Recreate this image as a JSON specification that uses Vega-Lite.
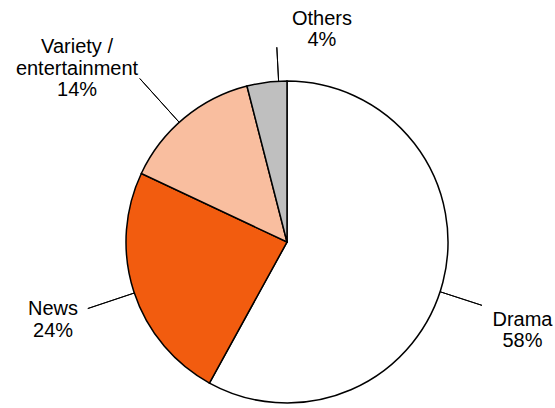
{
  "$schema": "https://vega.github.io/schema/vega-lite/v6.json",
  "width": 536,
  "height": 332,
  "autosize": {"type": "none"},
  "padding": {"left": 19, "top": 76, "right": 0, "bottom": 0},
  "background": "white",
  "config": {"view": {"stroke": null}, "text": {"font": "Liberation Sans"}},
  "data": {"values": [
    {"category": "Drama", "value": 58, "order": 1, "label": "Drama\n58%"},
    {"category": "News", "value": 24, "order": 2, "label": "News\n24%"},
    {"category": "Variety / entertainment", "value": 14, "order": 3, "label": "Variety /\nentertainment\n14%"},
    {"category": "Others", "value": 4, "order": 4, "label": "Others\n4%"}
  ]},
  "transform": [
    {"stack": "value", "groupby": [], "sort": [{"field": "order", "order": "ascending"}], "as": ["v0", "v1"]}
  ],
  "layer": [
    {
      "mark": {"type": "arc", "radius": 161, "stroke": "black", "strokeWidth": 1.5},
      "encoding": {
        "theta": {"field": "v0", "type": "quantitative", "scale": {"domain": [0, 100]}},
        "theta2": {"field": "v1"},
        "color": {"field": "category", "type": "nominal",
          "scale": {"domain": ["Drama", "News", "Variety / entertainment", "Others"],
                    "range": ["#FFFFFF", "#F25C0F", "#F9BE9F", "#BFBFBF"]},
          "legend": null}
      }
    },
    {
      "mark": {"type": "arc", "radius": 205, "radius2": 161, "fill": null, "stroke": "black", "strokeWidth": 1, "thetaOffset": 1.885, "theta2Offset": 1.885},
      "encoding": {
        "theta": {"field": "v0", "type": "quantitative"},
        "theta2": {"field": "v0"},
        "strokeOpacity": {"condition": {"test": "datum.category === 'Drama'", "value": 1}, "value": 0}
      }
    },
    {
      "mark": {"type": "arc", "radius": 210, "radius2": 161, "fill": null, "stroke": "black", "strokeWidth": 1, "thetaOffset": 0.7458, "theta2Offset": 0.7458},
      "encoding": {
        "theta": {"field": "v0", "type": "quantitative"},
        "theta2": {"field": "v0"},
        "strokeOpacity": {"condition": {"test": "datum.category === 'News'", "value": 1}, "value": 0}
      }
    },
    {
      "mark": {"type": "arc", "radius": 220, "radius2": 161, "fill": null, "stroke": "black", "strokeWidth": 1, "thetaOffset": 0.3978, "theta2Offset": 0.3978},
      "encoding": {
        "theta": {"field": "v0", "type": "quantitative"},
        "theta2": {"field": "v0"},
        "strokeOpacity": {"condition": {"test": "datum.category === 'Variety / entertainment'", "value": 1}, "value": 0}
      }
    },
    {
      "mark": {"type": "arc", "radius": 195, "radius2": 161, "fill": null, "stroke": "black", "strokeWidth": 1, "thetaOffset": 0.1991, "theta2Offset": 0.1991},
      "encoding": {
        "theta": {"field": "v0", "type": "quantitative"},
        "theta2": {"field": "v0"},
        "strokeOpacity": {"condition": {"test": "datum.category === 'Others'", "value": 1}, "value": 0}
      }
    },
    {
      "mark": {"type": "text", "radius": 240, "fontSize": 20, "lineHeight": 21.5, "lineBreak": "\n", "align": "center", "baseline": "middle", "color": "black", "dx": 3, "dy": 18},
      "encoding": {
        "theta": {"field": "value", "type": "quantitative", "stack": true},
        "order": {"field": "order", "type": "quantitative", "sort": "ascending"},
        "text": {"condition": {"test": "datum.category === 'Drama'", "field": "label"}, "value": ""}
      }
    },
    {
      "mark": {"type": "text", "radius": 240, "fontSize": 20, "lineHeight": 21.5, "lineBreak": "\n", "align": "center", "baseline": "middle", "color": "black", "dx": -5.7, "dy": -7},
      "encoding": {
        "theta": {"field": "value", "type": "quantitative", "stack": true},
        "order": {"field": "order", "type": "quantitative", "sort": "ascending"},
        "text": {"condition": {"test": "datum.category === 'News'", "field": "label"}, "value": ""}
      }
    },
    {
      "mark": {"type": "text", "radius": 240, "fontSize": 20, "lineHeight": 21.5, "lineBreak": "\n", "align": "center", "baseline": "middle", "color": "black", "dx": -57, "dy": -9.6},
      "encoding": {
        "theta": {"field": "value", "type": "quantitative", "stack": true},
        "order": {"field": "order", "type": "quantitative", "sort": "ascending"},
        "text": {"condition": {"test": "datum.category === 'Variety / entertainment'", "field": "label"}, "value": ""}
      }
    },
    {
      "mark": {"type": "text", "radius": 240, "fontSize": 20, "lineHeight": 21.5, "lineBreak": "\n", "align": "center", "baseline": "middle", "color": "black", "dx": 65, "dy": 15},
      "encoding": {
        "theta": {"field": "value", "type": "quantitative", "stack": true},
        "order": {"field": "order", "type": "quantitative", "sort": "ascending"},
        "text": {"condition": {"test": "datum.category === 'Others'", "field": "label"}, "value": ""}
      }
    }
  ]
}
